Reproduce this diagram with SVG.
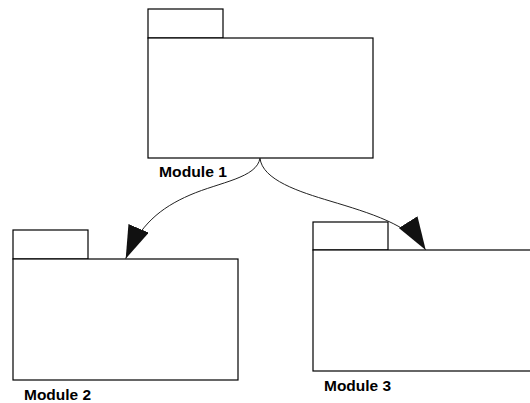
<svg xmlns="http://www.w3.org/2000/svg" width="530" height="403" viewBox="0 0 530 403">
<style>
.box{fill:#fff;stroke:#000;stroke-width:1.2}
.lbl{font-family:"Liberation Sans",Arial,sans-serif;font-weight:bold;font-size:14px;fill:#000}
.edge{fill:none;stroke:#222;stroke-width:1}
</style>
<defs>
<marker id="arr" markerUnits="userSpaceOnUse" markerWidth="36" markerHeight="24" refX="33" refY="11" orient="auto">
<path d="M0,0 L33,11 L0,22 z" fill="#111"/>
</marker>
</defs>
<rect width="530" height="403" fill="#fff"/>
<g id="module1">
<rect class="box" x="148" y="9" width="75" height="29"/>
<rect class="box" x="148" y="38" width="225" height="120"/>
<text class="lbl" x="159" y="177" textLength="68" lengthAdjust="spacingAndGlyphs">Module 1</text>
</g>
<g id="module2">
<rect class="box" x="13" y="230" width="75" height="29"/>
<rect class="box" x="13" y="259" width="225" height="121"/>
<text class="lbl" x="24" y="400" textLength="67" lengthAdjust="spacingAndGlyphs">Module 2</text>
</g>
<g id="module3">
<rect class="box" x="313" y="222" width="75" height="28"/>
<rect class="box" x="313" y="250" width="230" height="121"/>
<text class="lbl" x="324" y="391" textLength="67" lengthAdjust="spacingAndGlyphs">Module 3</text>
</g>
<g id="connectors">
<path class="edge" marker-end="url(#arr)" d="M260,158 C257,178 220,182 190,195 C160,208 140,225 125.7,258.7"/>
<path class="edge" marker-end="url(#arr)" d="M260,158 C262,180 300,192 330,201 C370,213 410,225 425.7,250"/>
</g>
</svg>
